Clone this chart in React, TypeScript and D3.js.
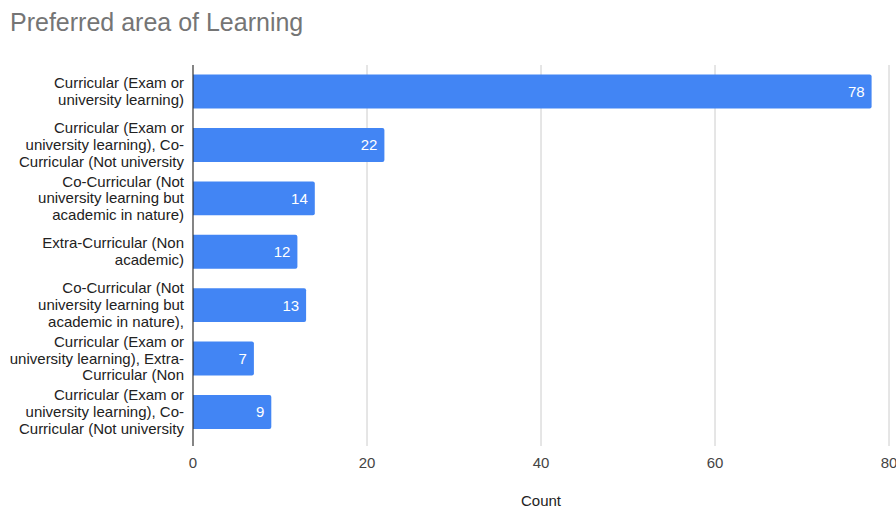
import React from "react";
import * as d3 from "d3";

const title = "Preferred area of Learning";
const categories = [
  "Curricular (Exam or|university learning)",
  "Curricular (Exam or|university learning), Co-|Curricular (Not university",
  "Co-Curricular (Not|university learning but|academic in nature)",
  "Extra-Curricular (Non|academic)",
  "Co-Curricular (Not|university learning but|academic in nature),",
  "Curricular (Exam or|university learning), Extra-|Curricular (Non",
  "Curricular (Exam or|university learning), Co-|Curricular (Not university",
];
const counts = [78, 22, 14, 12, 13, 7, 9];
const xTicks = [0, 20, 40, 60, 80];
const xTitle = "Count";

const W = 896;
const H = 510;
const left = 193;
const right = 889;
const top = 65;
const bandBottom = 438.5;
const axisBottom = 446;
const font = "Arial, 'Liberation Sans', sans-serif";

export default function App() {
  const x = d3.scaleLinear().domain([0, 80]).range([left, right]);
  const y = d3
    .scaleBand<number>()
    .domain(d3.range(categories.length))
    .range([top, bandBottom])
    .paddingInner(0.365)
    .paddingOuter(0.18);
  const bw = y.bandwidth();
  const r = 2;
  return (
    <svg
      width={W}
      height={H}
      style={{ position: "absolute", left: 0, top: 0, background: "#fff" }}
      fontFamily={font}
    >
      <text x={10} y={31} fontSize={25} fill="#757575">
        {title}
      </text>
      {xTicks.map((t) =>
        t === 0 ? null : (
          <line key={t} x1={x(t)} x2={x(t)} y1={top} y2={axisBottom} stroke="#cccccc" strokeWidth={1} />
        )
      )}
      {counts.map((v, i) => {
        const y0 = y(i)!;
        const x0 = x(0);
        const x1 = x(v);
        const path = `M${x0},${y0} H${x1 - r} Q${x1},${y0} ${x1},${y0 + r} V${y0 + bw - r} Q${x1},${y0 + bw} ${x1 - r},${y0 + bw} H${x0} Z`;
        return (
          <g key={i}>
            <path d={path} fill="#4285f4" />
            <text
              x={x1 - 7}
              y={y0 + bw / 2 + 5.5}
              fontSize={15}
              fill="#ffffff"
              textAnchor="end"
            >
              {v}
            </text>
          </g>
        );
      })}
      <line x1={x(0)} x2={x(0)} y1={top} y2={axisBottom} stroke="#333333" strokeWidth={1.2} />
      {categories.map((c, i) => {
        const lines = c.split("|");
        const cy = y(i)! + bw / 2;
        const lh = 16.8;
        const start = cy - ((lines.length - 1) * lh) / 2 + 5;
        return (
          <text key={i} fontSize={15} fill="#222222" textAnchor="end">
            {lines.map((l, j) => (
              <tspan key={j} x={184} y={start + j * lh}>
                {l}
              </tspan>
            ))}
          </text>
        );
      })}
      {xTicks.map((t) => (
        <text key={t} x={x(t)} y={468} fontSize={15} fill="#444444" textAnchor="middle">
          {t}
        </text>
      ))}
      <text x={(left + right) / 2} y={506} fontSize={15} fill="#222222" textAnchor="middle">
        {xTitle}
      </text>
    </svg>
  );
}
